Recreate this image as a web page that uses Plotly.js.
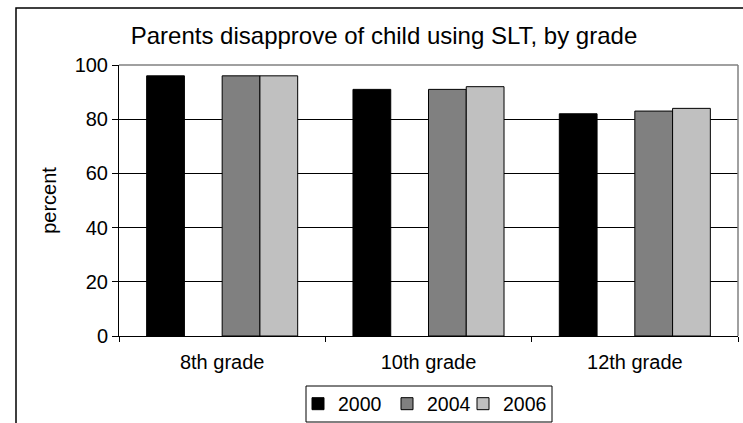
<!DOCTYPE html>
<html>
<head>
<meta charset="utf-8">
<script src="https://cdn.plot.ly/plotly-3.0.1.min.js"></script>
<style>
  html, body { margin: 0; padding: 0; background: #ffffff; }
  #chart { width: 743px; height: 423px; }
</style>
</head>
<body>
<div id="chart"></div>
<script>
const categories = ["8th grade", "10th grade", "12th grade"];
const years = ["2000", "2002", "2004", "2006"];
const values2000 = [96, 91, 82];
const values2002 = [null, null, null];
const values2004 = [96, 91, 83];
const values2006 = [96, 92, 84];
const yTicks = [0, 20, 40, 60, 80, 100];

const seriesValues = [values2000, values2002, values2004, values2006];
const seriesColors = ["#000000", "#ffffff", "#808080", "#c0c0c0"];
const inLegend = [true, false, true, true];
const legendIds = ["legend", "legend", "legend2", "legend3"];

const FONT = "Liberation Sans, Arial, Helvetica, sans-serif";

const traces = years.map((yr, i) => ({
  type: "bar",
  name: yr,
  x: categories,
  y: seriesValues[i],
  marker: { color: seriesColors[i], line: { color: "#000000", width: 1 } },
  showlegend: inLegend[i],
  legend: legendIds[i],
  hoverinfo: "x+y+name"
}));

// plot area in pixels: x 119..738, y 65..336
const PX = (px) => (px - 119) / 619;
const PY = (py) => (336 - py) / 271;

function legendAt(leftPx) {
  return {
    orientation: "h",
    x: PX(leftPx), xanchor: "left",
    y: PY(404), yanchor: "middle",
    borderwidth: 0,
    bgcolor: "rgba(0,0,0,0)",
    font: { family: FONT, size: 19.5, color: "#000000" },
    itemwidth: 30
  };
}

const layout = {
  width: 743,
  height: 423,
  paper_bgcolor: "#ffffff",
  plot_bgcolor: "#ffffff",
  margin: { l: 119, r: 5, t: 65, b: 87, pad: 0, autoexpand: false },
  font: { family: FONT, color: "#000000", size: 20 },
  title: {
    text: "Parents disapprove of child using SLT, by grade",
    font: { family: FONT, size: 24, color: "#000000" },
    x: 384 / 743, xanchor: "center", xref: "container",
    y: 1 - 36 / 423, yanchor: "middle", yref: "container",
    automargin: false
  },
  barmode: "group",
  bargap: 0.268,
  bargroupgap: 0,
  xaxis: {
    type: "category",
    showgrid: false,
    showline: true, linecolor: "#000000", linewidth: 1,
    ticks: "outside", ticklen: 5, tickcolor: "#000000", tickwidth: 1,
    tickson: "boundaries",
    tickfont: { family: FONT, size: 20, color: "#000000" },
    ticklabelstandoff: 8,
    automargin: false,
    fixedrange: true
  },
  yaxis: {
    range: [0, 100],
    tickvals: yTicks,
    ticktext: yTicks.map(String),
    showgrid: true, gridcolor: "#000000", gridwidth: 1,
    zeroline: false,
    showline: true, linecolor: "#000000", linewidth: 1,
    ticks: "outside", ticklen: 6, tickcolor: "#000000", tickwidth: 1,
    tickfont: { family: FONT, size: 20, color: "#000000" },
    title: { text: "percent", font: { family: FONT, size: 20, color: "#000000" }, standoff: 12 },
    automargin: false,
    fixedrange: true
  },
  legend: legendAt(298),
  legend2: legendAt(387),
  legend3: legendAt(463),
  shapes: [
    { type: "line", xref: "paper", yref: "paper", x0: 0, x1: 1, y0: 1, y1: 1,
      line: { color: "#808080", width: 1.5 }, layer: "above" },
    { type: "line", xref: "paper", yref: "paper", x0: 1, x1: 1, y0: 0, y1: 1,
      line: { color: "#808080", width: 1.5 }, layer: "above" },
    { type: "rect", xref: "paper", yref: "paper",
      x0: PX(16), x1: PX(760), y0: PY(440), y1: PY(8),
      line: { color: "#000000", width: 1.5 }, fillcolor: "rgba(0,0,0,0)", layer: "below" },
    { type: "rect", xref: "paper", yref: "paper",
      x0: PX(306), x1: PX(552), y0: PY(422), y1: PY(386),
      line: { color: "#000000", width: 1 }, fillcolor: "rgba(0,0,0,0)", layer: "above" }
  ],
  showlegend: true
};

Plotly.newPlot("chart", traces, layout, { displayModeBar: false, staticPlot: true });
</script>
</body>
</html>
